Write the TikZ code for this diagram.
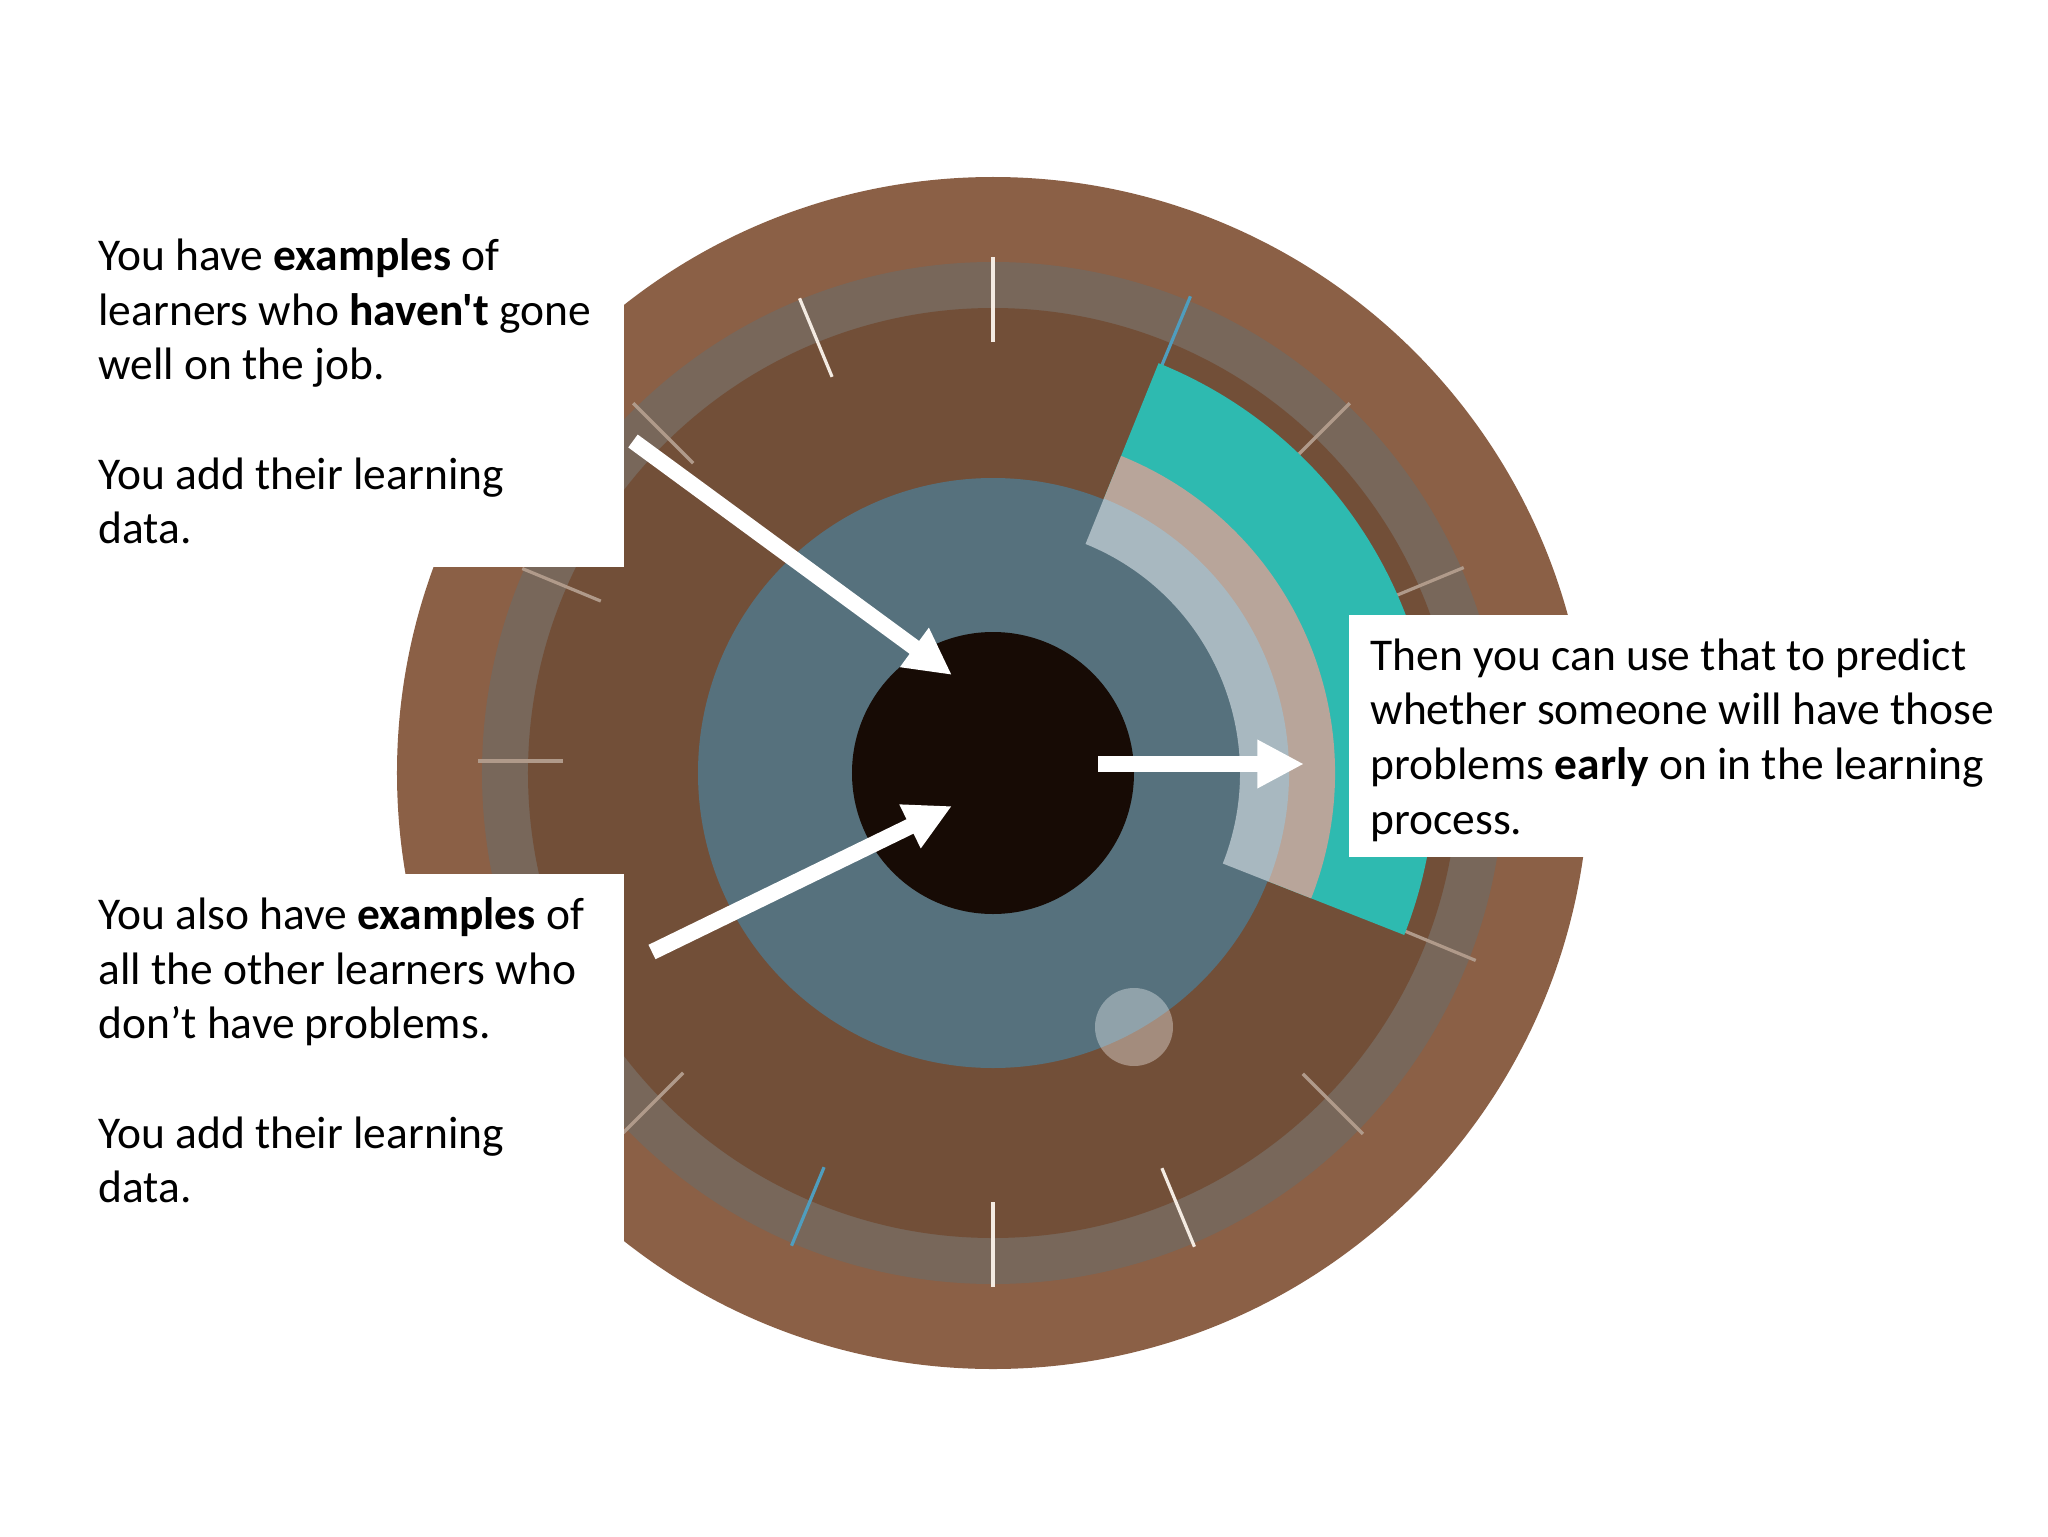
\documentclass[tikz,border=0pt]{standalone}
\usepackage{fontspec}
\setmainfont[Ligatures=TeXOff]{Carlito}
\usetikzlibrary{arrows.meta}

\definecolor{rimbrown}{HTML}{8B6046}
\definecolor{ringgrey}{HTML}{78675A}
\definecolor{irisbrown}{HTML}{724F38}
\definecolor{irisblue}{HTML}{56717D}
\definecolor{pupilblack}{HTML}{170B05}
\definecolor{wedgeteal}{HTML}{2EBAB0}
\definecolor{wedgetaupe}{HTML}{B8A59A}
\definecolor{wedgepale}{HTML}{A8B8C0}
\definecolor{tickpale}{HTML}{B09A8A}
\definecolor{tickwhite}{HTML}{F4EBE2}
\definecolor{tickblue}{HTML}{4F9DBE}

\tikzset{
  whitebox/.style={fill=white},
  note/.style={anchor=north west,inner sep=0pt,align=left,
    font=\fontsize{17.05pt}{20.5pt}\selectfont},
  bigarrow/.style={draw=white,line width=6pt,
    -{Triangle[length=17.5pt,width=17pt,fill=white]}}
}

\begin{document}
\begin{tikzpicture}[x=0.375pt,y=0.375pt]
\useasboundingbox (-993,-763) rectangle (1055,773);
\fill[rimbrown] (0,0) circle (596);
\fill[ringgrey] (0,0) circle (511);
\fill[irisbrown] (0,0) circle (465);
\foreach \ang/\col/\dx/\dy in {90/tickwhite/0/0,112.5/tickwhite/4/-2,135/tickpale/5/5,
    157.5/tickpale/6/7,180/tickpale/1/12,-135/tickpale/-5/5,-112.5/tickblue/-4/4,
    -90/tickwhite/0/2,-67.5/tickwhite/4/3,-45/tickpale/5/4,-22.5/tickpale/6/10,
    22.5/tickpale/-6/8,45/tickpale/-8/5,67.5/tickblue/0/0}
  \draw[\col,line width=1.2pt,shift={(\dx,\dy)}] (\ang:431) -- (\ang:516);
\fill[wedgeteal] (0,0) -- (68:442) arc[start angle=68,end angle=-21.5,radius=442] -- cycle;
\fill[wedgetaupe] (0,0) -- (68:342) arc[start angle=68,end angle=-21.5,radius=342] -- cycle;
\fill[irisblue] (0,0) circle (295);
\fill[wedgepale] (68:247) arc[start angle=68,end angle=-21.5,radius=247]
  -- (-21.5:296) arc[start angle=-21.5,end angle=68,radius=296] -- cycle;
\fill[white,opacity=0.35] (141,-254) circle (39);
\fill[pupilblack] (0,0) circle (141);

\fill[whitebox] (-993,773) rectangle (-369,206);
\fill[whitebox] (-993,-101) rectangle (-369,-763);
\fill[whitebox] (356,158) rectangle (1055,-84);

\node[note] (havent) at (-895,535)
  {You have \textbf{examples} of\\learners who \textbf{haven't} gone\\well on the job.\\[20.5pt]
   You add their learning\\data.};
\node[note] (others) at (-895,-124)
  {You also have \textbf{examples} of\\all the other learners who\\don’t have problems.\\[20.5pt]
   You add their learning\\data.};
\node[note] (predict) at (377,135)
  {Then you can use that to predict\\whether someone will have those\\problems \textbf{early} on in the learning\\process.};

\coordinate (hstart) at (-360,332);
\coordinate (hend) at (-41,98);
\coordinate (ostart) at (-341,-179);
\coordinate (oend) at (-41,-33);
\coordinate (pstart) at (105,9);
\coordinate (pend) at (311,9);
\draw[bigarrow] (hstart) -- (hend);
\draw[bigarrow] (ostart) -- (oend);
\draw[bigarrow] (pstart) -- (pend);
\end{tikzpicture}
\end{document}
